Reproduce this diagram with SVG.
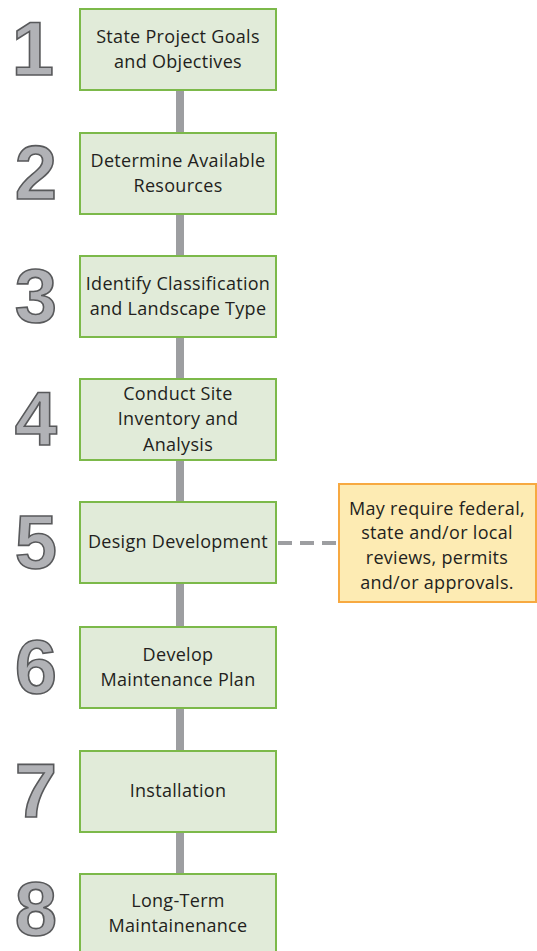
<svg xmlns="http://www.w3.org/2000/svg" width="537" height="951" viewBox="0 0 537 951">
<style>
.box{fill:#e1ebd9;stroke:#7cb94a;stroke-width:2}
.t{font-family:"Open Sans","Liberation Sans",Arial,sans-serif;font-size:18px;letter-spacing:0.3px;fill:#231f20;text-anchor:middle}
.n{font-family:"Liberation Sans",Arial,sans-serif;font-weight:bold;font-size:76px;fill:#b1b2b6;stroke:#58595b;stroke-width:1.6;text-anchor:middle}
.c{stroke:#9d9ea1;stroke-width:8;fill:none}
.d{stroke:#9d9ea1;stroke-width:4;stroke-dasharray:14 8;fill:none}
.note{fill:#fdebb3;stroke:#f7a941;stroke-width:2}
</style>
<rect width="537" height="951" fill="#ffffff"/>
<g id="connectors">
<line class="c" x1="180" y1="90" x2="180" y2="133"/>
<line class="c" x1="180" y1="214" x2="180" y2="256"/>
<line class="c" x1="180" y1="337" x2="180" y2="379"/>
<line class="c" x1="180" y1="460" x2="180" y2="502"/>
<line class="c" x1="180" y1="583" x2="180" y2="627"/>
<line class="c" x1="180" y1="708" x2="180" y2="751"/>
<line class="c" x1="180" y1="832" x2="180" y2="874"/>
<line class="d" x1="278" y1="543" x2="339" y2="543"/>
</g>
<g id="step1">
<text class="n" x="33" y="75">1</text>
<rect class="box" x="80" y="9" width="196" height="81"/>
<text class="t" x="178" y="43">State Project Goals</text>
<text class="t" x="178" y="68">and Objectives</text>
</g>
<g id="step2">
<text class="n" x="36" y="199">2</text>
<rect class="box" x="80" y="133" width="196" height="81"/>
<text class="t" x="178" y="167">Determine Available</text>
<text class="t" x="178" y="192">Resources</text>
</g>
<g id="step3">
<text class="n" x="36" y="322">3</text>
<rect class="box" x="80" y="256" width="196" height="81"/>
<text class="t" x="178" y="290">Identify Classification</text>
<text class="t" x="178" y="315">and Landscape Type</text>
</g>
<g id="step4">
<text class="n" x="36" y="445">4</text>
<rect class="box" x="80" y="379" width="196" height="81"/>
<text class="t" x="178" y="400">Conduct Site</text>
<text class="t" x="178" y="425">Inventory and</text>
<text class="t" x="178" y="451">Analysis</text>
</g>
<g id="step5">
<text class="n" x="36" y="568">5</text>
<rect class="box" x="80" y="502" width="196" height="81"/>
<text class="t" x="178" y="548">Design Development</text>
</g>
<g id="step6">
<text class="n" x="36" y="693">6</text>
<rect class="box" x="80" y="627" width="196" height="81"/>
<text class="t" x="178" y="661">Develop</text>
<text class="t" x="178" y="686">Maintenance Plan</text>
</g>
<g id="step7">
<text class="n" x="36" y="817">7</text>
<rect class="box" x="80" y="751" width="196" height="81"/>
<text class="t" x="178" y="797">Installation</text>
</g>
<g id="step8">
<text class="n" x="36" y="935">8</text>
<rect class="box" x="80" y="874" width="196" height="90"/>
<text class="t" x="178" y="907">Long-Term</text>
<text class="t" x="178" y="932">Maintainenance</text>
</g>
<g id="note">
<rect class="note" x="339" y="484" width="197" height="118"/>
<text class="t" x="437" y="515">May require federal,</text>
<text class="t" x="437" y="539">state and/or local</text>
<text class="t" x="437" y="564">reviews, permits</text>
<text class="t" x="437" y="589">and/or approvals.</text>
</g>
</svg>
